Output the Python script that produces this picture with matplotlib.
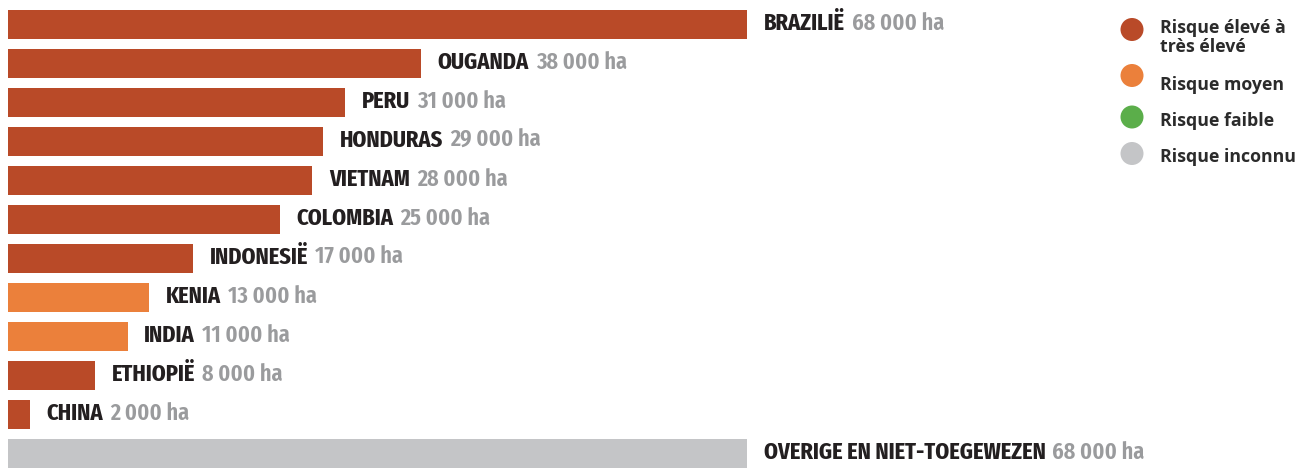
import matplotlib
matplotlib.use("Agg")
import matplotlib.pyplot as plt
from matplotlib import font_manager
from matplotlib.font_manager import FontProperties

# data
countries = ["BRAZILIË", "OUGANDA", "PERU", "HONDURAS", "VIETNAM", "COLOMBIA",
             "INDONESIË", "KENIA", "INDIA", "ETHIOPIË", "CHINA",
             "OVERIGE EN NIET-TOEGEWEZEN"]
areas = [68000, 38000, 31000, 29000, 28000, 25000, 17000, 13000, 11000, 8000, 2000, 68000]
risks = ["high", "high", "high", "high", "high", "high", "high",
         "medium", "medium", "high", "high", "unknown"]

legend_keys = ["high", "medium", "low", "unknown"]
legend_labels = ["Risque élevé à\ntrès élevé", "Risque moyen", "Risque faible", "Risque inconnu"]

colors = {"high": "#B94A28", "medium": "#EB803B", "low": "#5BAE4A", "unknown": "#C4C5C7"}


def narrow_font(weights):
    # narrowest installed face in one of the wanted weights
    best = None
    for f in font_manager.fontManager.ttflist:
        if f.style != "normal":
            continue
        w = f.weight if isinstance(f.weight, int) else font_manager.weight_dict.get(f.weight, 400)
        if w not in weights:
            continue
        tag = (f.fname + " " + f.name).lower().replace("-", "").replace(" ", "")
        if "ultracondensed" in tag or "extracondensed" in tag:
            rank = 0
        elif "semicondensed" in tag:
            rank = 3
        elif "condensed" in tag or "narrow" in tag or f.stretch != "normal":
            rank = 2
        else:
            continue
        key = (rank, weights.index(w))
        if best is None or key < best[0]:
            best = (key, f)
    return best[1].fname if best else None


bold_file = narrow_font([700, 800, 600])
mid_file = narrow_font([600, 500, 700])


def label_props(fname, size, weight):
    if fname:
        return FontProperties(fname=fname, size=size)
    return FontProperties(family="DejaVu Sans", stretch="condensed", weight=weight, size=size)


W, H = 1312, 469
fig = plt.figure(figsize=(W / 100, H / 100), dpi=100)

# bar axes: full figure, x=0 at 8px, 68000 at 747px
ha_per_px = 68000 / 739
ax = fig.add_axes([0, 0, 1, 1])
ax.set_xlim(-8 * ha_per_px, (W - 8) * ha_per_px)
ax.set_ylim((H - 24.5) / 39, -24.5 / 39)
ax.axis("off")

ypos = list(range(len(countries)))
ax.barh(ypos, areas, height=29 / 39, left=0,
        color=[colors[r] for r in risks], linewidth=0)

name_fp = label_props(bold_file, 17.5, "bold")
val_fp = label_props(mid_file, 17.5, "semibold")
for y, name, val in zip(ypos, countries, areas):
    t = ax.annotate(name, xy=(val, y), xytext=(12, -4), textcoords="offset points",
                    va="baseline", ha="left", fontproperties=name_fp, color="#231F20")
    ax.annotate(f"{val:,}".replace(",", " ") + " ha", xy=(1, 0), xycoords=t,
                xytext=(5, 0), textcoords="offset points", va="bottom", ha="left",
                fontproperties=val_fp, color="#9A9B9D")

# legend in pixel coordinates
lx = fig.add_axes([0, 0, 1, 1])
lx.set_xlim(0, W)
lx.set_ylim(H, 0)
lx.axis("off")
circle_y = [29.5, 75.5, 117, 153.5]
baseline_y = [52.5, 89.5, 125.5, 162.5]  # last line of each label
lx.scatter([1132] * 4, circle_y, s=(23 * 0.72) ** 2,
           c=[colors[k] for k in legend_keys], linewidths=0)
for ty, lab in zip(baseline_y, legend_labels):
    lx.text(1160, ty, lab, va="baseline", ha="left", fontsize=12.8, fontweight="bold",
            family="Open Sans", color="#2B2B2B", linespacing=1.12)

fig.savefig("out.png", dpi=100)
